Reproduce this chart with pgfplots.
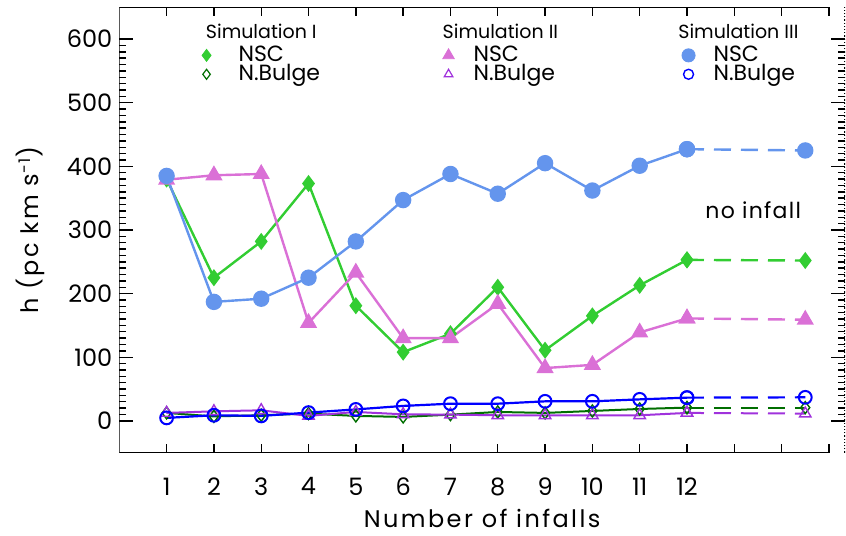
\documentclass[border=0pt]{standalone}
\usepackage{fontspec}
\setmainfont{Poppins}
\usepackage{pgfplots}
\pgfplotsset{compat=1.18}
\definecolor{nscgreen}{RGB}{50,205,50}
\definecolor{bulgegreen}{RGB}{0,110,0}
\definecolor{nscpink}{RGB}{218,112,214}
\definecolor{bulgepurple}{RGB}{160,50,220}
\definecolor{nscblue}{RGB}{100,149,237}
\definecolor{bulgeblue}{RGB}{0,0,255}
\newcommand{\lstrut}{\rule[-3.5pt]{0pt}{9pt}}
\begin{document}
\begin{tikzpicture}
\begin{axis}[
  scale only axis, width=362.85pt, height=222.7pt,
  xmin=0, xmax=15.34, ymin=-50, ymax=650,
  xtick={1,2,3,4,5,6,7,8,9,10,11,12,13,14,15},
  xticklabels={1,2,3,4,5,6,7,8,9,10,11,12,{},{},{}},
  ytick={0,100,200,300,400,500,600},
  minor y tick num=9,
  tick align=inside,
  major tick length=7pt, minor tick length=3.5pt,
  xtick style={/pgfplots/major tick length=4.5pt},
  tick style={black, line width=0.7pt},
  separate axis lines,
  axis line style={draw=none},
  /pgf/number format/assume math mode=true,
  tick label style={font=\fontsize{12}{14}\selectfont},
  xticklabel style={yshift=-9pt},
  label style={font=\fontsize{12}{14}\selectfont\addfontfeatures{LetterSpace=10}},
  xlabel={Number of infalls},
  ylabel={h (pc km s\textsuperscript{-1})},
  xlabel style={yshift=0pt},
  ylabel style={yshift=4pt},
  legend columns=3,
  legend cell align=left,
  legend image code/.code={\path[draw=none, fill=none] (0pt,-1pt) rectangle (10pt,1pt); \draw[#1] plot coordinates {(5pt,0pt)};},
  legend style={at={(axis cs:1.633,589)}, anchor=north west, draw=none, fill=none,
    font=\fontsize{11}{12}\selectfont, row sep=0pt, column sep=0pt, inner sep=0pt, outer sep=0pt,
    nodes={inner sep=0pt, outer sep=0pt}},
]
% legend
\addlegendimage{mark=diamond*, mark size=3pt, color=nscgreen}\addlegendentry{\makebox[111pt][l]{\hspace*{11pt}NSC\lstrut}}
\addlegendimage{mark=triangle*, mark size=3.3pt, color=nscpink}\addlegendentry{\makebox[110pt][l]{\hspace*{7.5pt}NSC\lstrut}}
\addlegendimage{mark=*, mark size=3.3pt, color=nscblue}\addlegendentry{\makebox[60pt][l]{\hspace*{7.5pt}NSC\lstrut}}
\addlegendimage{mark=diamond, mark size=2.5pt, color=bulgegreen, mark options={line width=0.6pt}}\addlegendentry{\makebox[111pt][l]{\hspace*{11pt}N.Bulge\lstrut}}
\addlegendimage{mark=triangle, mark size=2.5pt, color=bulgepurple, mark options={line width=0.6pt}}\addlegendentry{\makebox[110pt][l]{\hspace*{7.5pt}N.Bulge\lstrut}}
\addlegendimage{mark=o, mark size=2.5pt, color=bulgeblue, mark options={line width=0.7pt}}\addlegendentry{\makebox[60pt][l]{\hspace*{7.5pt}N.Bulge\lstrut}}

% N.Bulge series
\addplot[forget plot, color=bulgegreen, line width=1pt, mark=diamond, mark size=3pt, mark options={fill=white, line width=0.7pt}]
 coordinates {(1,12.5)(2,7)(3,8.8)(4,11.4)(5,7.8)(6,6.2)(7,9.8)(8,14)(9,12.5)(10,15.6)(11,18.7)(12,20.8)};
\addplot[forget plot, color=bulgegreen, line width=1pt, dash pattern=on 8.5pt off 5pt, mark=diamond, mark size=3pt, mark options={solid, fill=white, line width=0.7pt}]
 coordinates {(12,20.8)(14.5,20.8)};
\addplot[forget plot, color=bulgepurple, line width=1pt, mark=triangle, mark size=3.3pt, mark options={fill=white, line width=0.7pt}]
 coordinates {(1,12.5)(2,15)(3,16.6)(4,7.8)(5,14)(6,10.3)(7,9.8)(8,8.8)(9,8.8)(10,8.8)(11,8.8)(12,12.5)};
\addplot[forget plot, color=bulgepurple, line width=1pt, dash pattern=on 8.5pt off 5pt, mark=triangle, mark size=3.3pt, mark options={solid, fill=white, line width=0.7pt}]
 coordinates {(12,12.5)(14.5,11.4)};
\addplot[forget plot, color=bulgeblue, line width=1.1pt, mark=o, mark size=3.2pt, mark options={fill=white, line width=1pt}]
 coordinates {(1,4.7)(2,8.8)(3,7.8)(4,13)(5,18)(6,23.5)(7,27)(8,27)(9,30.7)(10,30.7)(11,33.8)(12,36.5)};
\addplot[forget plot, color=bulgeblue, line width=1.1pt, dash pattern=on 8.5pt off 5pt, mark=o, mark size=3.2pt, mark options={solid, fill=white, line width=1pt}]
 coordinates {(12,36.5)(14.5,37)};

% NSC series
\addplot[forget plot, color=nscgreen, line width=1.2pt, mark=diamond*, mark size=3.3pt]
 coordinates {(1,380)(2,225)(3,282)(4,373)(5,181)(6,108)(7,137)(8,210)(9,111)(10,165)(11,213)(12,253)};
\addplot[forget plot, color=nscgreen, line width=1.2pt, dash pattern=on 8.5pt off 5pt, mark=diamond*, mark size=3.3pt, mark options={solid}]
 coordinates {(12,253)(14.5,252)};
\addplot[forget plot, color=nscpink, line width=1.2pt, mark=triangle*, mark size=3.8pt]
 coordinates {(1,379)(2,386)(3,388)(4,154)(5,233)(6,130)(7,130)(8,184)(9,83)(10,88)(11,139)(12,161)};
\addplot[forget plot, color=nscpink, line width=1.2pt, dash pattern=on 8.5pt off 5pt, mark=triangle*, mark size=3.8pt, mark options={solid}]
 coordinates {(12,161)(14.5,159)};
\addplot[forget plot, color=nscblue, line width=1.2pt, mark=*, mark size=3.5pt]
 coordinates {(1,385)(2,187)(3,192)(4,225)(5,282)(6,347)(7,388)(8,357)(9,405)(10,362)(11,401)(12,427)};
\addplot[forget plot, color=nscblue, line width=1.2pt, dash pattern=on 8.5pt off 5pt, mark=*, mark size=3.5pt, mark options={solid}]
 coordinates {(12,427)(14.5,425)};

\node[font=\fontsize{11}{13}\selectfont\addfontfeatures{LetterSpace=6}] at (axis cs:13.4,331) {no infall};
\node[anchor=base west, inner sep=0pt, font=\fontsize{9.5}{10}\selectfont] at (axis cs:1.823,600.7) {Simulation I};
\node[anchor=base west, inner sep=0pt, font=\fontsize{9.5}{10}\selectfont] at (axis cs:6.828,600.7) {Simulation II};
\node[anchor=base west, inner sep=0pt, font=\fontsize{9.5}{10}\selectfont] at (axis cs:11.81,600.7) {Simulation III};

% frame
\draw[line width=0.8pt] (rel axis cs:0,0) -- (rel axis cs:0,1);
\draw[line width=0.8pt] (rel axis cs:0,0) -- (axis cs:15,-50);
\draw[line width=0.8pt] (rel axis cs:0,1) -- (axis cs:15,650);
\draw[line width=0.6pt, densely dotted] (rel axis cs:1,0) -- (rel axis cs:1,1);
\coordinate (SW) at (rel axis cs:0,0);
\coordinate (NE) at (rel axis cs:1,1);
\end{axis}
\pgfresetboundingbox
\path[use as bounding box] ([shift={(-59.65pt,-41.65pt)}]SW) rectangle ([shift={(0.5pt,3.65pt)}]NE);
\end{tikzpicture}
\end{document}
